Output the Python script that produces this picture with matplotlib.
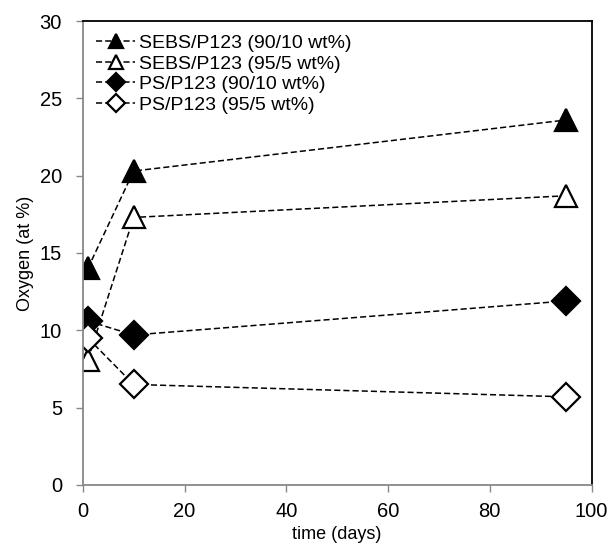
import matplotlib
matplotlib.use("Agg")
import matplotlib.pyplot as plt

plt.rcParams["font.family"] = ["Liberation Sans", "DejaVu Sans"]

# ─── Données ─────────────────────────────────────────────────────────────────
days = [1, 10, 95]
sebs_90_10 = [14.0, 20.3, 23.6]
sebs_95_5 = [8.1, 17.3, 18.7]
ps_90_10 = [10.6, 9.7, 11.9]
ps_95_5 = [9.5, 6.5, 5.7]

labels = [
    "SEBS/P123 (90/10 wt%)",
    "SEBS/P123 (95/5 wt%)",
    "PS/P123 (90/10 wt%)",
    "PS/P123 (95/5 wt%)",
]

# ─── Figure ──────────────────────────────────────────────────────────────────
fig = plt.figure(figsize=(6.13, 5.53), dpi=100)
ax = fig.add_axes([0.135, 0.123, 0.830, 0.839])

series = [
    (sebs_90_10, "^", "black", 16),
    (sebs_95_5, "^", "white", 16),
    (ps_90_10, "D", "black", 14),
    (ps_95_5, "D", "white", 14),
]
for (vals, marker, face, ms), lab in zip(series, labels):
    ax.plot(days, vals, ls=(0, (4, 2)), color="black", lw=1.1,
            marker=marker, markersize=ms, markerfacecolor=face,
            markeredgecolor="black", markeredgewidth=1.6, label=lab)

ax.set_xlim(0, 100)
ax.set_ylim(0, 30)
ax.set_xticks(range(0, 101, 20))
ax.set_yticks(range(0, 31, 5))
ax.set_xlabel("time (days)", fontsize=13, labelpad=4)
ax.set_ylabel("Oxygen (at %)", fontsize=13, labelpad=4)
ax.tick_params(labelsize=14.5, direction="out", length=5, color="#888888", width=1)
ax.tick_params(axis="x", pad=7)
ax.tick_params(axis="y", pad=10)

for side in ("left", "bottom"):
    ax.spines[side].set_color("#888888")
    ax.spines[side].set_linewidth(1.3)
for side in ("top", "right"):
    ax.spines[side].set_color("black")
    ax.spines[side].set_linewidth(1.3)

leg = ax.legend(loc="upper left", frameon=False, fontsize=14, markerscale=0.65,
                handlelength=2.0, handletextpad=0.2, labelspacing=0.15,
                borderaxespad=0.3, bbox_to_anchor=(0.0, 1.0))

fig.savefig("out.png", dpi=100)
